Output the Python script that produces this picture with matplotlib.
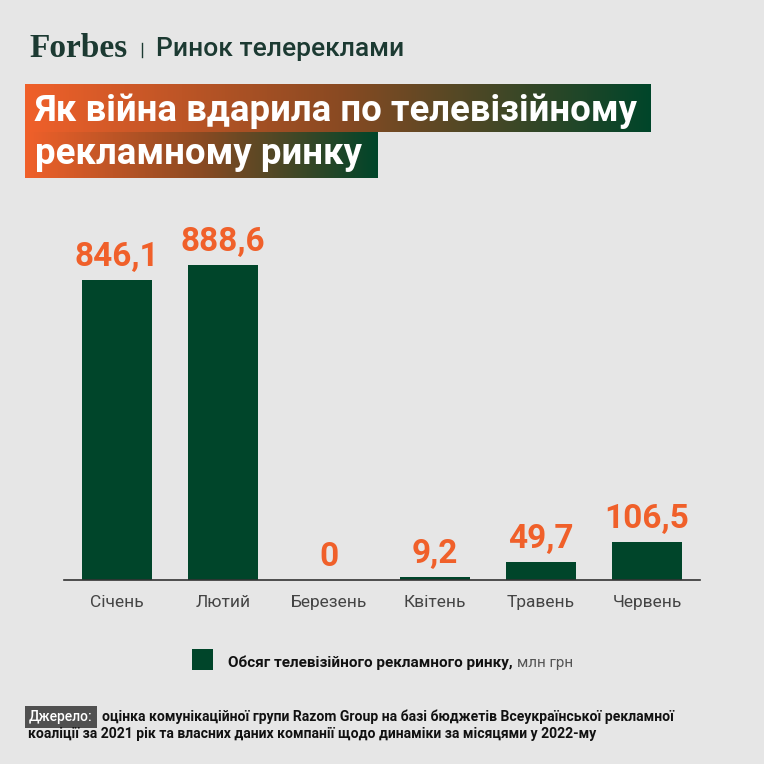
import numpy as np
import matplotlib
matplotlib.use("Agg")
import matplotlib.pyplot as plt
import matplotlib.transforms as mtransforms
from matplotlib.colors import LinearSegmentedColormap
from matplotlib.patches import Rectangle

months = ["Січень", "Лютий", "Березень", "Квітень", "Травень", "Червень"]
volumes = [846.1, 888.6, 0, 9.2, 49.7, 106.5]
value_labels = ["846,1", "888,6", "0", "9,2", "49,7", "106,5"]

header = "Ринок телереклами"
title_lines = ["Як війна вдарила по телевізійному", "рекламному ринку"]
legend_bold = "Обсяг телевізійного рекламного ринку,"
legend_unit = "млн грн"
source_tag = "Джерело:"
source_lines = ["оцінка комунікаційної групи Razom Group на базі бюджетів Всеукраїнської рекламної",
                "коаліції за 2021 рік та власних даних компанії щодо динаміки за місяцями у 2022-му"]

BG = "#e6e6e6"
GREEN = "#00452a"
ORANGE = "#f0602a"
FONT = ["Roboto", "DejaVu Sans"]

W = 764
fig = plt.figure(figsize=(7.64, 7.64), dpi=100, facecolor=BG)

# ---- overlay in pixel coords for header / title / footer ----
ov = fig.add_axes([0, 0, 1, 1], zorder=0)
ov.axis("off")

ov.text(29, 57, "Forbes", family=["Liberation Serif"], weight="bold",
        fontsize=24, color="#1c3a32", va="baseline")
ov.plot([142, 142], [43, 57], color="#1c3a32", lw=1.0)
ov.text(156, 56, header, family=FONT, weight="medium", fontsize=19,
        color="#1c3a32", va="baseline")

grad = LinearSegmentedColormap.from_list("g", [ORANGE, "#8a4a22", GREEN])
gvals = np.linspace(0, 1, 256).reshape(1, -1)
ov.imshow(gvals, cmap=grad, aspect="auto", extent=[25, 651, 132, 84], zorder=1)
ov.imshow(gvals, cmap=grad, aspect="auto", extent=[25, 378, 178, 132], zorder=1)
ov.set_xlim(0, W)
ov.set_ylim(W, 0)
for k, line in enumerate(title_lines):
    ov.text(35, 121 + 43 * k, line, family=FONT, weight="bold", fontsize=26.3,
            color="white", va="baseline", zorder=2)

# legend
ov.add_patch(Rectangle((192, 649), 21, 21, facecolor=GREEN, edgecolor="none"))
t_leg = ov.text(228, 667, legend_bold, family=FONT, weight="bold", fontsize=11,
                color="#111111", va="baseline")

# source
ov.text(29, 721, source_tag, family=FONT, weight="medium", fontsize=10,
        color="white", va="baseline",
        bbox=dict(boxstyle="square,pad=0.3", facecolor="#505050", edgecolor="none"))
ov.text(102, 721, source_lines[0], family=FONT, weight="bold", fontsize=10.1,
        color="#111111", va="baseline")
ov.text(28, 738, source_lines[1], family=FONT, weight="bold", fontsize=10.1,
        color="#111111", va="baseline")

# ---- bar chart ----
px_per_unit = 300 / 846.1
ymax = 1000
ax = fig.add_axes([64 / W, (W - 580) / W, 636 / W, ymax * px_per_unit / W], zorder=1)
ax.set_facecolor("none")
x = np.arange(len(months))
ax.bar(x, volumes, width=0.66, color=GREEN, zorder=2)
ax.set_xlim(-0.5, len(months) - 0.5)
ax.set_ylim(0, ymax)
for i, (v, lab) in enumerate(zip(volumes, value_labels)):
    ax.annotate(lab, (i, v), xytext=(0, 10), textcoords="offset points",
                ha="center", va="baseline", family=FONT, weight="bold",
                fontsize=24, color=ORANGE)
ax.set_xticks(x)
ax.set_xticklabels(months, family=FONT, fontsize=12.5, color="#444444")
ax.tick_params(axis="x", length=0, pad=11)
ax.set_yticks([])
for s in ["top", "right", "left"]:
    ax.spines[s].set_visible(False)
ax.spines["bottom"].set_color("#333333")
ax.spines["bottom"].set_linewidth(1.2)

# unit text after the bold legend label
fig.canvas.draw()
x_end = t_leg.get_window_extent().x1
trans = mtransforms.blended_transform_factory(mtransforms.IdentityTransform(), ov.transData)
ov.text(x_end + 4, 667, legend_unit, family=FONT, fontsize=11, color="#555555",
        va="baseline", transform=trans)

fig.savefig("out.png", dpi=100, facecolor=BG)
